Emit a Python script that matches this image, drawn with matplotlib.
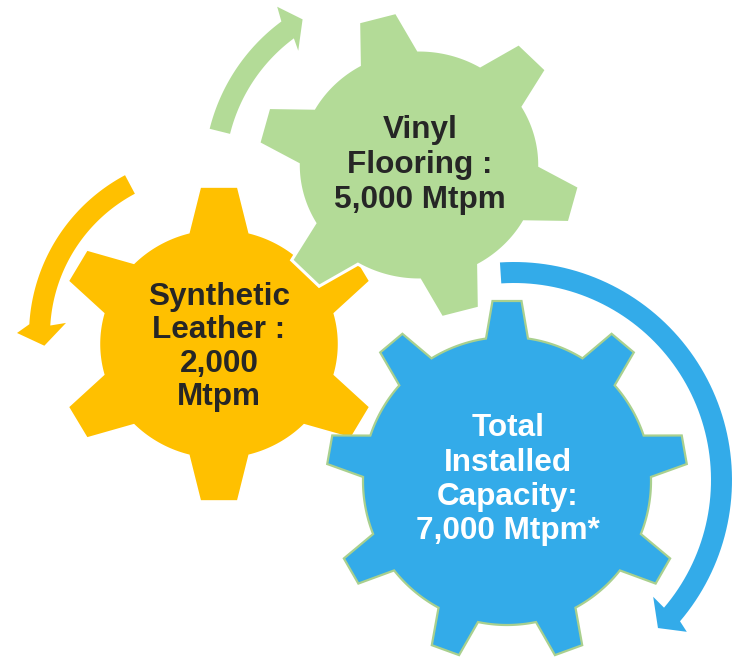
import numpy as np
import matplotlib
matplotlib.use("Agg")
import matplotlib.pyplot as plt
from matplotlib.patches import Polygon

plt.rcParams['font.family'] = ['Liberation Sans', 'DejaVu Sans']

W, H = 736, 657

# Textos das engrenagens (amarela, verde, azul)
labels = ["Synthetic\nLeather :\n2,000\nMtpm",
          "Vinyl\nFlooring :\n5,000 Mtpm",
          "Total\nInstalled\nCapacity:\n7,000 Mtpm*"]
text_colors = ["#262626", "#262626", "white"]

# Geometria das engrenagens em pixels
gears = [
    dict(cx=219, cy=344, n=6, a0=90, r_tip=157, r_body=115,
         w_tip=18, w_base=29, sx=1.04, fill="#FFC000", edge="white", lw=1.2),
    dict(cx=419, cy=165, n=6, a0=105, r_tip=153, r_body=115,
         w_tip=18.5, w_base=29, sx=1.05, fill="#B3DB97", edge="white", lw=2.2),
    dict(cx=507, cy=481, n=9, a0=90, r_tip=180, r_body=144,
         w_tip=14.5, w_base=21, sx=1.0, fill="#33ABE9", edge="#A9D08E", lw=1.6),
]

# Posicao do texto: centro x, centro y, distancia entre linhas
text_pos = [(219, 343.5, 33.5), (420, 161.7, 35.0), (508, 476.5, 34.3)]

# Setas circulares
arrows = [
    dict(cx=210, cy=335, r_in=160, r_out=181, a_start=118, a_shaft=176.6,
         tip=(166, 183.7), wing_in=(144.5, 175.2), wing_out=(193, 179.4), color="#FFC000"),
    dict(cx=395, cy=175, r_in=170, r_out=191, a_start=166, a_shaft=126.5,
         tip=(181, 120.7), wing_in=(157.5, 127.9), wing_out=(205.4, 125.0), color="#B3DB97"),
    dict(cx=514, cy=480, r_in=197, r_out=218, a_start=93.7, a_shaft=-40.4,
         tip=(206.5, -45.8), wing_in=(181.7, -40.0), wing_out=(230, -41.3), color="#33ABE9"),
]


def polar(cx, cy, r, a_deg):
    a = np.radians(a_deg)
    return cx + r * np.cos(a), cy - r * np.sin(a)


def gear_outline(g):
    pts = []
    step = 2 * np.pi / g['n']
    rb = np.sqrt(g['r_body'] ** 2 - g['w_base'] ** 2)
    half = np.arctan2(g['w_base'], rb)
    for k in range(g['n']):
        a = np.radians(g['a0']) + k * step
        u = np.array([np.cos(a), np.sin(a)])
        v = np.array([-np.sin(a), np.cos(a)])
        pts += [rb * u - g['w_base'] * v,
                g['r_tip'] * u - g['w_tip'] * v,
                g['r_tip'] * u + g['w_tip'] * v,
                rb * u + g['w_base'] * v]
        # arco do corpo entre dois dentes
        ang = np.linspace(a + half, a + step - half, 30)[1:-1]
        r = g['r_body']
        pts += list(np.column_stack([r * np.cos(ang), r * np.sin(ang)]))
    pts = np.array(pts)
    return np.column_stack([g['cx'] + g['sx'] * pts[:, 0], g['cy'] - pts[:, 1]])


def arrow_outline(ar):
    angs = np.linspace(ar['a_start'], ar['a_shaft'], 80)
    outer = [polar(ar['cx'], ar['cy'], ar['r_out'], a) for a in angs]
    inner = [polar(ar['cx'], ar['cy'], ar['r_in'], a) for a in angs[::-1]]
    head = [polar(ar['cx'], ar['cy'], *ar['wing_out']),
            polar(ar['cx'], ar['cy'], *ar['tip']),
            polar(ar['cx'], ar['cy'], *ar['wing_in'])]
    return np.array(outer + head + inner)


fig = plt.figure(figsize=(W / 100, H / 100), dpi=100)
ax = fig.add_axes([0, 0, 1, 1])
ax.set_xlim(0, W)
ax.set_ylim(H, 0)
ax.axis('off')

for ar in arrows:
    ax.add_patch(Polygon(arrow_outline(ar), closed=True, facecolor=ar['color'],
                         edgecolor='none', zorder=1))

for i, g in enumerate(gears):
    ax.add_patch(Polygon(gear_outline(g), closed=True, facecolor=g['fill'],
                         edgecolor=g['edge'], linewidth=g['lw'], zorder=2 + i))

font_px = 31.5
cap = 0.716 * font_px
for label, color, (tx, ty, pitch) in zip(labels, text_colors, text_pos):
    lines = label.split("\n")
    n = len(lines)
    for j, line in enumerate(lines):
        y = ty + (j - (n - 1) / 2) * pitch + cap / 2
        ax.text(tx, y, line, ha='center', va='baseline', color=color,
                fontsize=font_px * 0.72, fontweight='bold', zorder=10)

fig.savefig("out.png", dpi=100)
